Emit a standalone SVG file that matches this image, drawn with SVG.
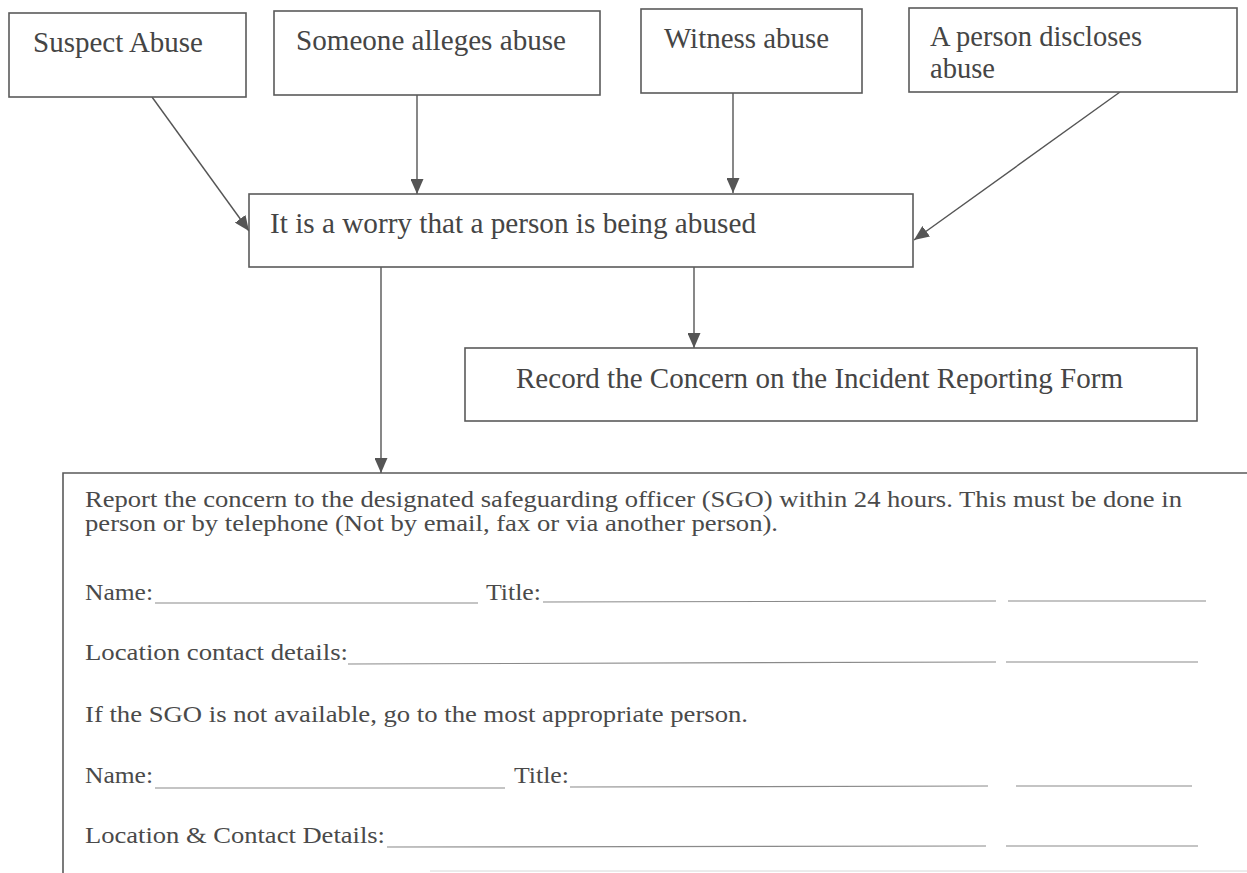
<svg xmlns="http://www.w3.org/2000/svg" width="1247" height="873" viewBox="0 0 1247 873">
<style>
.box{fill:#fff;stroke:#5a5a5a;stroke-width:1.6}
.t{font-family:"Liberation Serif","Times New Roman",serif;font-size:29px;fill:#454545}
.s{font-family:"Liberation Serif","Times New Roman",serif;font-size:23px;fill:#4a4a4a}
.c{stroke:#555;stroke-width:1.4;fill:none;marker-end:url(#ah)}
.u{stroke:#8a8a8a;stroke-width:1.2}
</style>
<defs>
<marker id="ah" markerUnits="userSpaceOnUse" markerWidth="15" markerHeight="13" refX="15" refY="6.5" orient="auto">
<path d="M0,0 L15,6.5 L0,13 Z" fill="#555"/>
</marker>
</defs>
<rect width="1247" height="873" fill="#fff"/>
<g id="connectors">
<line class="c" x1="152" y1="97" x2="249" y2="231"/>
<line class="c" x1="417" y1="95" x2="417" y2="194"/>
<line class="c" x1="733" y1="93" x2="733" y2="193"/>
<line class="c" x1="1120" y1="92" x2="914" y2="240"/>
<line class="c" x1="694" y1="266" x2="694" y2="348"/>
<line class="c" x1="381" y1="267" x2="381" y2="473"/>
</g>
<g id="suspect">
<rect class="box" x="9" y="13" width="237" height="84"/>
<text class="t" x="33" y="52" textLength="170" lengthAdjust="spacingAndGlyphs">Suspect Abuse</text>
</g>
<g id="alleges">
<rect class="box" x="274" y="11" width="326" height="84"/>
<text class="t" x="296" y="50" textLength="270" lengthAdjust="spacingAndGlyphs">Someone alleges abuse</text>
</g>
<g id="witness">
<rect class="box" x="641" y="9" width="221" height="84"/>
<text class="t" x="664" y="48" textLength="165" lengthAdjust="spacingAndGlyphs">Witness abuse</text>
</g>
<g id="discloses">
<rect class="box" x="909" y="8" width="328" height="84"/>
<text class="t" x="930" y="46" textLength="212" lengthAdjust="spacingAndGlyphs">A person discloses</text>
<text class="t" x="930" y="78" textLength="65" lengthAdjust="spacingAndGlyphs">abuse</text>
</g>
<g id="worry">
<rect class="box" x="249" y="194" width="664" height="73"/>
<text class="t" x="270" y="233" textLength="486" lengthAdjust="spacingAndGlyphs">It is a worry that a person is being abused</text>
</g>
<g id="record">
<rect class="box" x="465" y="348" width="732" height="73"/>
<text class="t" x="516" y="388" textLength="607" lengthAdjust="spacingAndGlyphs">Record the Concern on the Incident Reporting Form</text>
</g>
<g id="report">
<path d="M1247,473 L63,473 L63,873" fill="none" stroke="#5a5a5a" stroke-width="1.6"/>
<line x1="430" y1="871" x2="1247" y2="871" stroke="#d8d8d8" stroke-width="1"/>
<text class="s"><tspan x="85" y="507" textLength="1097" lengthAdjust="spacingAndGlyphs">Report the concern to the designated safeguarding officer (SGO) within 24 hours. This must be done in</tspan><tspan x="85" y="531" textLength="693" lengthAdjust="spacingAndGlyphs">person or by telephone (Not by email, fax or via another person).</tspan></text>
<text class="s" x="85" y="600" textLength="68" lengthAdjust="spacingAndGlyphs">Name:</text>
<line class="u" x1="155" y1="603" x2="478" y2="603"/>
<text class="s" x="486" y="600" textLength="55" lengthAdjust="spacingAndGlyphs">Title:</text>
<line class="u" x1="543" y1="602" x2="996" y2="601"/>
<line class="u" x1="1008" y1="601" x2="1206" y2="601"/>
<text class="s" x="85" y="660" textLength="263" lengthAdjust="spacingAndGlyphs">Location contact details:</text>
<line class="u" x1="348" y1="664" x2="996" y2="662"/>
<line class="u" x1="1006" y1="662" x2="1198" y2="662"/>
<text class="s" x="85" y="722" textLength="663" lengthAdjust="spacingAndGlyphs">If the SGO is not available, go to the most appropriate person.</text>
<text class="s" x="85" y="783" textLength="68" lengthAdjust="spacingAndGlyphs">Name:</text>
<line class="u" x1="155" y1="788" x2="505" y2="788"/>
<text class="s" x="514" y="783" textLength="55" lengthAdjust="spacingAndGlyphs">Title:</text>
<line class="u" x1="570" y1="787" x2="988" y2="786"/>
<line class="u" x1="1016" y1="786" x2="1192" y2="786"/>
<text class="s" x="85" y="843" textLength="300" lengthAdjust="spacingAndGlyphs">Location &amp; Contact Details:</text>
<line class="u" x1="387" y1="847" x2="986" y2="846"/>
<line class="u" x1="1006" y1="846" x2="1198" y2="846"/>
</g>
</svg>
